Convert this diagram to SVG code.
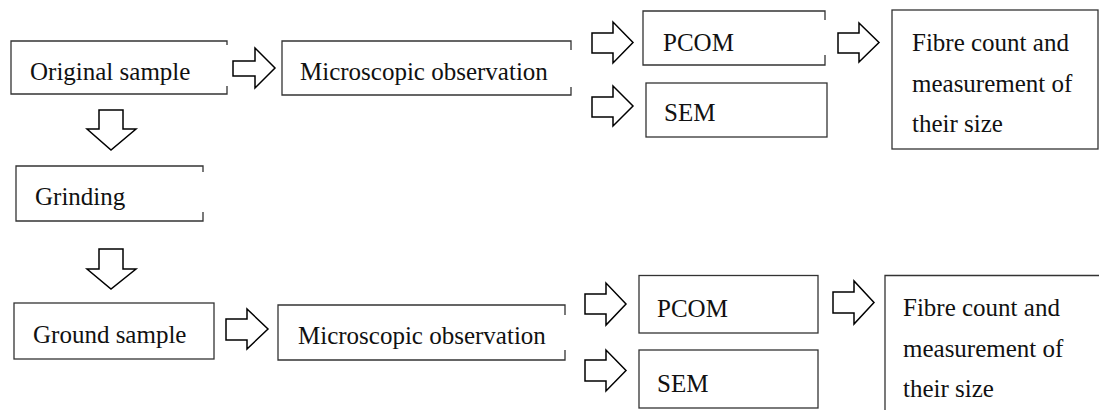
<svg xmlns="http://www.w3.org/2000/svg" width="1099" height="410" viewBox="0 0 1099 410">
<style>
.box{fill:none;stroke:#333;stroke-width:1.3}
.arr{fill:#fff;stroke:#000;stroke-width:1.5;stroke-linejoin:miter}
text{font-family:"Liberation Serif","Times New Roman",serif;font-size:25px;fill:#111}
</style>
<rect width="1099" height="410" fill="#fff"/>
<g id="connectors">
<polygon class="arr" points="233,61 255,61 255,48 275,68 255,88 255,76 233,76"/>
<polygon class="arr" points="592,33 613,33 613,22 633,42.5 613,63 613,53 592,53"/>
<polygon class="arr" points="592,97 613,97 613,86 633,106 613,126 613,117 592,117"/>
<polygon class="arr" points="838,33 859,33 859,23 879,42.5 859,62 859,53 838,53"/>
<polygon class="arr" points="99,110 123,110 123,129 136,129 111,150 87,129 99,129"/>
<polygon class="arr" points="99,249 123,249 123,269 136,269 111,289 87,269 99,269"/>
<polygon class="arr" points="226,319 247,319 247,309 268,329 247,349 247,340 226,340"/>
<polygon class="arr" points="585,294 606,294 606,283 626,304 606,325 606,314 585,314"/>
<polygon class="arr" points="585,360 606,360 606,350 626,370.5 606,391 606,381 585,381"/>
<polygon class="arr" points="833,292 854,292 854,281 874,302.5 854,324 854,313 833,313"/>
</g>
<g id="n1"><path class="box" d="M227,45 L227,41 L11,41 L11,94 L227,94 L227,86"/><text x="30" y="80">Original sample</text></g>
<g id="n2"><path class="box" d="M571,50 L571,41 L282,41 L282,95 L571,95 L571,87"/><text x="300" y="80">Microscopic observation</text></g>
<g id="n3"><path class="box" d="M825,20 L825,11 L643,11 L643,65 L825,65 L825,55"/><text x="663" y="51">PCOM</text></g>
<g id="n4"><rect class="box" x="646" y="83" width="181" height="54"/><text x="664" y="121">SEM</text></g>
<g id="n5"><rect class="box" x="892" y="10" width="206" height="139"/><text x="912" y="51">Fibre count and</text><text x="912" y="92">measurement of</text><text x="912" y="132">their size</text></g>
<g id="n6"><path class="box" d="M203,172 L203,166 L16,166 L16,221 L203,221 L203,212"/><text x="35" y="205">Grinding</text></g>
<g id="n7"><rect class="box" x="14" y="303" width="200" height="56"/><text x="33" y="343">Ground sample</text></g>
<g id="n8"><path class="box" d="M565,315 L565,305 L278,305 L278,360 L565,360 L565,350"/><text x="298" y="344">Microscopic observation</text></g>
<g id="n9"><rect class="box" x="639" y="275.5" width="179" height="57.5"/><text x="657" y="317">PCOM</text></g>
<g id="n10"><rect class="box" x="639" y="350" width="179" height="58"/><text x="657" y="392">SEM</text></g>
<g id="n11"><path class="box" d="M1100,275.5 L885,275.5 L885,410"/><text x="903" y="316">Fibre count and</text><text x="903" y="357">measurement of</text><text x="903" y="397">their size</text></g>
</svg>
